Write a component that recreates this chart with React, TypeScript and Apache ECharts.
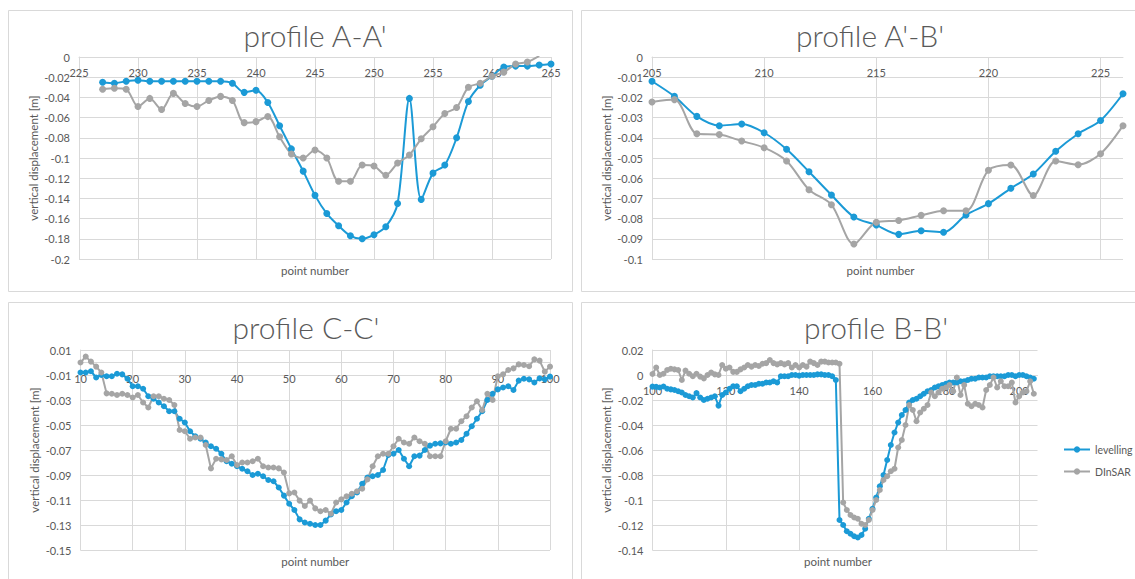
import React, { useEffect, useRef } from "react";
import * as echarts from "echarts";

// ---------- data ----------
// profile A-A'
const aaStart = 227;
const aaLevelling = [
  -0.025, -0.026, -0.024, -0.023, -0.024, -0.024, -0.024, -0.024, -0.024, -0.024, -0.024, -0.026,
  -0.035, -0.033, -0.045, -0.068, -0.091, -0.113,
  -0.137, -0.155, -0.167, -0.177, -0.18, -0.176, -0.168, -0.145, -0.041, -0.141,
  -0.115, -0.107, -0.08, -0.044, -0.028, -0.019, -0.01, -0.009, -0.009, -0.008, -0.007,
];
const aaDinsar = [
  -0.032, -0.031, -0.032, -0.049, -0.041, -0.052, -0.036, -0.046, -0.049, -0.043, -0.039, -0.043,
  -0.065, -0.064, -0.059, -0.079, -0.096, -0.1,
  -0.092, -0.1, -0.123, -0.123, -0.107, -0.108, -0.117, -0.105, -0.097, -0.081,
  -0.069, -0.056, -0.05, -0.03, -0.026, -0.019, -0.015, -0.007, -0.005, 0.001,
];

// profile A'-B'
const abStart = 205;
const abLevelling = [
  -0.012, -0.0195, -0.0294, -0.034, -0.0332, -0.0375, -0.0457, -0.0568, -0.0683, -0.0792, -0.0832,
  -0.0878, -0.086, -0.0868, -0.0782, -0.0726, -0.065, -0.0579, -0.0467, -0.038, -0.0314, -0.0182,
];
const abDinsar = [
  -0.0223, -0.0211, -0.038, -0.0384, -0.0416, -0.0449, -0.0515, -0.0657, -0.0731, -0.0926, -0.0818,
  -0.0809, -0.0784, -0.0761, -0.0761, -0.0561, -0.0535, -0.0686, -0.0515, -0.0533, -0.0479, -0.034,
];

// profile C-C'
const ccStart = 10;
const ccLevelling = [
  -0.008, -0.008, -0.007, -0.012, -0.01, -0.011, -0.011, -0.009, -0.0095, -0.013,
  -0.019, -0.019, -0.021, -0.027, -0.029, -0.032, -0.035, -0.039, -0.039, -0.045,
  -0.048, -0.055, -0.059, -0.061, -0.064, -0.067, -0.069, -0.073, -0.079, -0.081,
  -0.083, -0.085, -0.087, -0.09, -0.089, -0.091, -0.094, -0.095, -0.1, -0.1065,
  -0.113, -0.118, -0.1255, -0.128, -0.129, -0.13, -0.13, -0.1265, -0.1215, -0.119,
  -0.118, -0.112, -0.107, -0.104, -0.097, -0.092, -0.091, -0.09, -0.086, -0.074,
  -0.073, -0.07, -0.077, -0.083, -0.075, -0.0745, -0.07, -0.0665, -0.065, -0.0647,
  -0.064, -0.065, -0.064, -0.062, -0.057, -0.051, -0.045, -0.039, -0.03, -0.025,
  -0.0215, -0.02, -0.019, -0.022, -0.0145, -0.013, -0.0135, -0.016, -0.0127, -0.0135,
  -0.0113,
];
const ccDinsar = [
  0.0, 0.0047, 0.0007, -0.0033, -0.008, -0.0247, -0.025, -0.026, -0.025, -0.026,
  -0.028, -0.026, -0.032, -0.036, -0.027, -0.027, -0.029, -0.03, -0.034, -0.054,
  -0.055, -0.061, -0.06, -0.06, -0.066, -0.0847, -0.077, -0.0775, -0.078, -0.075,
  -0.082, -0.08, -0.08, -0.079, -0.077, -0.083, -0.084, -0.084, -0.0847, -0.088,
  -0.1047, -0.104, -0.1105, -0.1148, -0.1105, -0.1167, -0.119, -0.118, -0.121, -0.112,
  -0.1095, -0.107, -0.105, -0.103, -0.101, -0.0935, -0.083, -0.075, -0.073, -0.073,
  -0.067, -0.061, -0.064, -0.065, -0.06, -0.063, -0.065, -0.075, -0.075, -0.075,
  -0.063, -0.053, -0.053, -0.047, -0.043, -0.036, -0.031, -0.038, -0.025, -0.03,
  -0.011, -0.0095, -0.006, -0.0047, -0.0015, -0.002, -0.003, 0.0025, 0.0015, -0.0073,
  -0.0033,
];

// profile B-B'
const bbStart = 100;
const bbLevelling = [
  -0.0093, -0.0095, -0.01, -0.0092, -0.011, -0.0115, -0.012, -0.013, -0.014, -0.016,
  -0.017, -0.018, -0.0145, -0.018, -0.02, -0.019, -0.018, -0.017, -0.0245, -0.016,
  -0.014, -0.011, -0.009, -0.009, -0.013, -0.011, -0.009, -0.008, -0.008, -0.007,
  -0.007, -0.006, -0.006, -0.005, -0.006, -0.001, -0.001, -0.001, 0.0, 0.0,
  -0.0005, 0.0, 0.0, 0.0, 0.0, 0.0005, 0.0005, 0.0, 0.0, -0.001,
  -0.004,
  -0.116, -0.12, -0.125, -0.127, -0.129, -0.13, -0.128, -0.123, -0.115,
  -0.107, -0.098, -0.089, -0.08, -0.068, -0.056, -0.046, -0.038, -0.032, -0.028,
  -0.022, -0.02, -0.019, -0.017, -0.015, -0.013, -0.012, -0.01, -0.009, -0.008,
  -0.007, -0.006, -0.006, -0.006, -0.005, -0.005, -0.004, -0.003, -0.003, -0.002,
  -0.002, -0.002, -0.001, -0.001, -0.001, -0.001, -0.001, 0.0, 0.0, -0.001,
  0.0, 0.0, -0.001, -0.002, -0.003,
];
const bbDinsar = [
  0.0008, 0.006, 0.0, 0.001, 0.004, 0.005, 0.0045, 0.004, -0.004, 0.0035,
  0.001, -0.001, 0.001, -0.0013, -0.0027, 0.0, 0.002, 0.0005, 0.0, 0.008,
  0.005, 0.006, 0.0025, 0.0025, 0.0045, 0.006, 0.008, 0.0067, 0.008, 0.0072,
  0.009, 0.0095, 0.012, 0.0095, 0.0085, 0.0095, 0.0085, 0.0095, 0.006, 0.008,
  0.006, 0.008, 0.0067, 0.0107, 0.0095, 0.008, 0.0107, 0.0107, 0.01, 0.01,
  0.01, 0.009,
  -0.102, -0.108, -0.112, -0.114, -0.115, -0.119, -0.12, -0.116,
  -0.108, -0.1, -0.092, -0.084, -0.081, -0.077, -0.075, -0.058, -0.052, -0.04,
  -0.024, -0.028, -0.037, -0.03, -0.027, -0.024, -0.014, -0.017, -0.014, -0.011,
  -0.01, -0.008, -0.013, -0.002, -0.016, -0.008, -0.023, -0.025, -0.023, -0.024,
  -0.026, -0.012, -0.008, -0.002, -0.01, -0.005, -0.009, -0.009, -0.006, -0.022,
  -0.017, -0.014, -0.013, -0.005, -0.015,
];

const titles = ["profile A-A'", "profile A'-B'", "profile C-C'", "profile B-B'"];
const seriesNames = ["levelling", "DInSAR"];
const xAxisTitle = "point number";
const yAxisTitle = "vertical displacement [m]";

// ---------- styling ----------
const BLUE = "#1b9ad6";
const GREY = "#a5a5a5";
const TEXT = "#595959";
const GRID = "#d9d9d9";
const FONT = "Lato";

const pair = (start: number, vals: number[]) => vals.map((v, i) => [start + i, v]);

type PanelCfg = {
  grid: { left: number; top: number; width: number; height: number };
  x: [number, number, number];
  y: [number, number, number];
  hideMax: boolean;
  smooth: number | boolean;
  symbolSize: number;
  lev: number[][];
  din: number[][];
};

const panels: PanelCfg[] = [
  {
    grid: { left: 79, top: 57, width: 472, height: 202 },
    x: [225, 265, 5], y: [-0.2, 0, 0.02], hideMax: false, smooth: 0.3, symbolSize: 7,
    lev: pair(aaStart, aaLevelling), din: pair(aaStart, aaDinsar),
  },
  {
    grid: { left: 652, top: 57, width: 471, height: 202 },
    x: [205, 226, 5], y: [-0.1, 0, 0.01], hideMax: true, smooth: 0.3, symbolSize: 7,
    lev: pair(abStart, abLevelling), din: pair(abStart, abDinsar),
  },
  {
    grid: { left: 80.5, top: 350, width: 469.5, height: 200 },
    x: [10, 100, 10], y: [-0.15, 0.01, 0.02], hideMax: false, smooth: false, symbolSize: 6,
    lev: pair(ccStart, ccLevelling), din: pair(ccStart, ccDinsar),
  },
  {
    grid: { left: 652.5, top: 350, width: 385, height: 200 },
    x: [100, 205, 20], y: [-0.14, 0.02, 0.02], hideMax: true, smooth: false, symbolSize: 6,
    lev: pair(bbStart, bbLevelling), din: pair(bbStart, bbDinsar),
  },
];

const titlePos = [
  [315, 35],
  [870, 35],
  [306, 327],
  [876, 327],
];
const boxes = [
  [8.5, 10.5, 564, 281],
  [581.5, 10.5, 620, 281],
  [8.5, 302.5, 564, 300],
  [581.5, 302.5, 620, 300],
];

export default function App() {
  const ref = useRef<HTMLDivElement>(null);
  useEffect(() => {
    if (!ref.current) return;
    const chart = echarts.init(ref.current, undefined, { renderer: "svg" });
    const labelStyle = { color: TEXT, fontSize: 11, fontFamily: FONT };
    const option: any = {
      animation: false,
      backgroundColor: "#ffffff",
      grid: panels.map((p) => ({ ...p.grid, containLabel: false })),
      xAxis: panels.map((p, i) => {
        // the category axis crosses the value axis at 0
        const zeroOffset = (p.y[1] / (p.y[1] - p.y[0])) * p.grid.height;
        return {
          type: "value",
          gridIndex: i,
          position: "top",
          offset: -zeroOffset,
          min: p.x[0],
          max: p.x[1],
          interval: p.x[2],
          axisLine: { show: true, onZero: false, lineStyle: { color: GRID, width: 1 } },
          axisTick: { show: false },
          axisLabel: { ...labelStyle, inside: true, margin: 10, showMaxLabel: !p.hideMax },
          splitLine: { show: true, showMaxLine: !p.hideMax, lineStyle: { color: GRID, width: 1 } },
        };
      }),
      yAxis: panels.map((p, i) => ({
        type: "value",
        gridIndex: i,
        min: p.y[0],
        max: p.y[1],
        interval: p.y[2],
        axisLine: { show: true, onZero: false, lineStyle: { color: GRID, width: 1 } },
        axisTick: { show: false },
        axisLabel: { ...labelStyle, margin: 9 },
        splitLine: { show: true, lineStyle: { color: GRID, width: 1 } },
        name: yAxisTitle,
        nameLocation: "middle",
        nameGap: 40,
        nameTextStyle: { ...labelStyle, fontSize: 11.5 },
      })),
      legend: {
        data: seriesNames,
        orient: "vertical",
        left: 1063,
        top: 444,
        padding: 0,
        itemWidth: 26,
        itemHeight: 8,
        itemGap: 11,
        textStyle: { ...labelStyle, fontSize: 10.5 },
      },
      series: panels.flatMap((p, i) => [
        {
          type: "line",
          name: seriesNames[0],
          xAxisIndex: i,
          yAxisIndex: i,
          data: p.lev,
          symbol: "circle",
          symbolSize: p.symbolSize,
          smooth: p.smooth,
          clip: true,
          lineStyle: { color: BLUE, width: 2 },
          itemStyle: { color: BLUE },
          emphasis: { disabled: true },
        },
        {
          type: "line",
          name: seriesNames[1],
          xAxisIndex: i,
          yAxisIndex: i,
          data: p.din,
          symbol: "circle",
          symbolSize: p.symbolSize,
          smooth: p.smooth,
          clip: true,
          lineStyle: { color: GREY, width: 2 },
          itemStyle: { color: GREY },
          emphasis: { disabled: true },
        },
      ]),
      graphic: [
        ...boxes.map((b) => ({
          type: "rect",
          silent: true,
          z: -10,
          shape: { x: b[0], y: b[1], width: b[2], height: b[3] },
          style: { fill: "none", stroke: GRID, lineWidth: 1 },
        })),
        ...titles.map((t, i) => ({
          type: "text",
          silent: true,
          x: titlePos[i][0],
          y: titlePos[i][1],
          style: {
            text: t,
            fill: TEXT,
            fontSize: 30,
            fontWeight: 300,
            fontFamily: FONT,
            align: "center",
            verticalAlign: "middle",
          },
        })),
        ...panels.map((p) => ({
          type: "text",
          silent: true,
          x: p.grid.left + p.grid.width / 2 + (p.hideMax ? -7 : 0),
          y: p.grid.top + p.grid.height + 11,
          style: {
            text: xAxisTitle,
            fill: TEXT,
            fontSize: 11.5,
            fontFamily: FONT,
            align: "center",
            verticalAlign: "middle",
          },
        })),
      ],
    };
    chart.setOption(option);
    return () => chart.dispose();
  }, []);
  return (
    <div
      ref={ref}
      style={{ position: "absolute", left: 0, top: 0, width: 1135, height: 579, background: "#fff" }}
    />
  );
}
